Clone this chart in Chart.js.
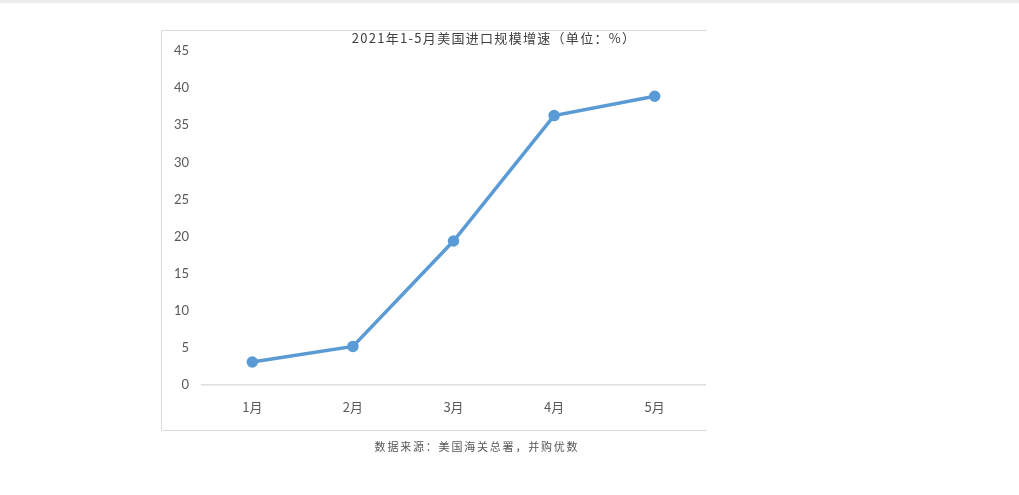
<!DOCTYPE html>
<html>
<head>
<meta charset="utf-8">
<script src="https://cdn.jsdelivr.net/npm/chart.js@4/dist/chart.umd.min.js"></script>
<style>
  html, body { margin: 0; padding: 0; background: #fff; }
  #wrap { width: 1019px; height: 495px; position: relative; }
</style>
</head>
<body>
<div id="wrap"><canvas id="canvas"></canvas></div>
<script>
var months = ['1月', '2月', '3月', '4月', '5月'];
var growth = [3.1, 5.2, 19.4, 36.3, 38.9];
var yTicks = [0, 5, 10, 15, 20, 25, 30, 35, 40, 45];
var titleText = '2021年1-5月美国进口规模增速（单位：%）';
var sourceText = '数据来源：美国海关总署，并购优数';

// frame, title and source line drawn round the plot
var framePlugin = {
    id: 'frame',
    beforeDraw: function(chart) {
        var ctx = chart.ctx;
        ctx.save();
        ctx.fillStyle = '#ececec';
        ctx.fillRect(0, 0, 1019, 3);
        ctx.strokeStyle = '#d9d9d9';
        ctx.lineWidth = 1;
        ctx.beginPath();
        ctx.moveTo(706.5, 30.5);
        ctx.lineTo(161.5, 30.5);
        ctx.lineTo(161.5, 430.5);
        ctx.lineTo(706.5, 430.5);
        ctx.stroke();
        ctx.restore();
    },
    afterDraw: function(chart) {
        var ctx = chart.ctx;
        ctx.save();
        ctx.fillStyle = '#404040';
        ctx.font = '13px "Noto Sans CJK SC"';
        ctx.letterSpacing = '1.3px';
        ctx.textAlign = 'center';
        ctx.textBaseline = 'middle';
        ctx.fillText(titleText, 494, 38);
        ctx.font = '11px "Noto Sans CJK SC"';
        ctx.letterSpacing = '1.8px';
        ctx.fillStyle = '#555';
        ctx.fillText(sourceText, 477, 447);
        ctx.restore();
    }
};

var config = {
    type: 'line',
    data: {
        labels: months,
        datasets: [{
            label: '增速',
            data: growth,
            borderColor: '#5b9bd5',
            backgroundColor: '#5b9bd5',
            borderWidth: 3.5,
            pointRadius: 4,
            pointHoverRadius: 4,
            fill: false,
            tension: 0
        }]
    },
    options: {
        responsive: false,
        animation: false,
        layout: {
            padding: { left: 160, right: 314, top: 51, bottom: 70 }
        },
        plugins: {
            legend: { display: false },
            title: { display: false },
            tooltip: { enabled: false }
        },
        scales: {
            x: {
                offset: true,
                grid: { display: false, drawTicks: false },
                border: { display: true, color: '#dedede', width: 1.5 },
                ticks: {
                    padding: 14,
                    color: '#595959',
                    font: { family: '"Noto Sans CJK SC"', size: 13 }
                },
                afterFit: function(scale) { scale.height = 40; }
            },
            y: {
                min: 0,
                max: 45,
                grid: { display: false, drawTicks: false },
                border: { display: false },
                afterBuildTicks: function(scale) {
                    scale.ticks = yTicks.map(function(v) { return { value: v }; });
                },
                ticks: {
                    padding: 13,
                    color: '#595959',
                    font: { family: 'Lato', size: 13 }
                },
                afterFit: function(scale) { scale.width = 42; }
            }
        }
    },
    plugins: [framePlugin]
};

var cv = document.getElementById('canvas');
cv.width = 1019;
cv.height = 495;
window.myLine = new Chart(cv.getContext('2d'), config);
</script>
</body>
</html>
